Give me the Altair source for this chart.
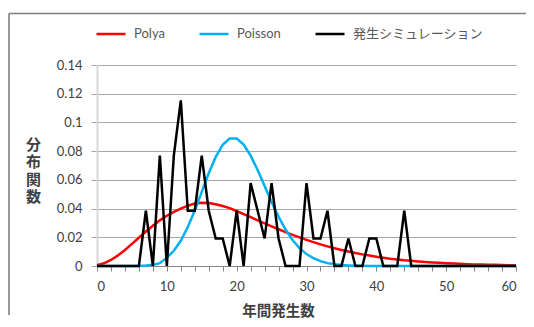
import altair as alt
import pandas as pd

x_vals = list(range(61))

polya = [0.0006, 0.0019, 0.0042, 0.0074, 0.0112, 0.0154, 0.0197, 0.0240, 0.0280, 0.0318,
         0.0350, 0.0377, 0.0400, 0.0420, 0.0435, 0.0440, 0.0438, 0.0430, 0.0418, 0.0403,
         0.0383, 0.0362, 0.0340, 0.0318, 0.0297, 0.0276, 0.0256, 0.0236, 0.0217, 0.0199,
         0.0182, 0.0166, 0.0151, 0.0137, 0.0124, 0.0112, 0.0101, 0.0091, 0.0081, 0.0073,
         0.0065, 0.0058, 0.0051, 0.0046, 0.0040, 0.0036, 0.0032, 0.0028, 0.0025, 0.0022,
         0.0019, 0.0017, 0.0015, 0.0013, 0.0011, 0.0010, 0.0009, 0.0008, 0.0007, 0.0006,
         0.0005]

poisson = [0, 0, 0, 0, 0, 0, 0, 0.0003, 0.0008, 0.0020,
           0.0058, 0.0106, 0.0176, 0.0271, 0.0387, 0.0516, 0.0646, 0.0760, 0.0844, 0.0888,
           0.0888, 0.0846, 0.0769, 0.0669, 0.0557, 0.0446, 0.0343, 0.0254, 0.0181, 0.0125,
           0.0083, 0.0054, 0.0034, 0.0020, 0.0012, 0.0007, 0.0004, 0.0002, 0.0001, 0,
           0, 0, 0, 0, 0, 0, 0, 0, 0, 0,
           0, 0, 0, 0, 0, 0, 0, 0, 0, 0,
           0]

simulation = [0, 0, 0, 0, 0, 0, 0, 0.0385, 0, 0.0769,
              0, 0.0769, 0.1154, 0.0385, 0.0385, 0.0769, 0.0385, 0.0192, 0.0192, 0,
              0.0385, 0, 0.0577, 0.0385, 0.0192, 0.0577, 0.0192, 0, 0, 0,
              0.0577, 0.0192, 0.0192, 0.0385, 0, 0, 0.0192, 0, 0, 0.0192,
              0.0192, 0, 0, 0, 0.0385, 0, 0, 0, 0, 0,
              0, 0, 0, 0, 0, 0, 0, 0, 0, 0,
              0]

series_names = ["Polya", "Poisson", "発生シミュレーション"]
series_colors = ["#FF0000", "#00B0F0", "#000000"]
y_ticks = [0, 0.02, 0.04, 0.06, 0.08, 0.1, 0.12, 0.14]
x_ticks = list(range(0, 61, 2))

rows = []
for name, vals in zip(series_names, [polya, poisson, simulation]):
    for xv, v in zip(x_vals, vals):
        rows.append({"x": xv, "value": v, "series": name})
df = pd.DataFrame(rows)

FONT = "Lato, 'Noto Sans CJK JP', sans-serif"
CJK = "'Noto Sans CJK JP', sans-serif"

color = alt.Color(
    "series:N",
    scale=alt.Scale(domain=series_names, range=series_colors),
    legend=alt.Legend(
        title=None, orient="none", legendX=-2, legendY=-47, direction="horizontal",
        symbolType="stroke", symbolSize=841, symbolStrokeWidth=2.5,
        labelFontSize=13, labelFont=FONT, labelColor="#595959", labelOffset=7,
        columnPadding=29, padding=0,
    ),
)

xenc = alt.X(
    "x:Q",
    scale=alt.Scale(domain=[0, 60], nice=False),
    axis=alt.Axis(
        values=x_ticks,
        labelExpr="datum.value % 10 == 0 ? datum.label : ''",
        labelOverlap=False,
        grid=False,
        title="年間発生数",
        titleFont=CJK, titleFontSize=14.5, titleFontWeight="bold", titleColor="#404040",
        titleX=181, titleY=45, titleAlign="center", titleBaseline="middle",
        domainColor="#868686", tickColor="#868686", tickSize=5,
        labelFont=FONT, labelFontSize=13, labelColor="#404040", labelPadding=9,
    ),
)

yenc = alt.Y(
    "value:Q",
    scale=alt.Scale(domain=[0, 0.14], nice=False),
    axis=alt.Axis(
        values=y_ticks, format="~g",
        title=["分", "布", "関", "数"], titleAngle=0,
        titleFont=CJK, titleFontSize=15, titleFontWeight="bold", titleColor="#404040",
        titleX=-64, titleY=79, titleAlign="center", titleBaseline="middle",
        titleLineHeight=17.5,
        domainColor="#D9D9D9", domainWidth=2,
        gridColor="#A6A6A6", tickColor="#A6A6A6", tickSize=6,
        labelFont=FONT, labelFontSize=13, labelColor="#404040", labelPadding=9,
    ),
)

frame_src = pd.DataFrame({"a": [0]})
frame_top = alt.Chart(frame_src).mark_rule(color="#7F7F7F", strokeWidth=1.6).encode(
    x=alt.value(-88), x2=alt.value(430), y=alt.value(-51.5)
)
frame_left = alt.Chart(frame_src).mark_rule(color="#7F7F7F", strokeWidth=1.6).encode(
    x=alt.value(-88), y=alt.value(-51.5), y2=alt.value(250)
)

layers = [frame_top, frame_left]
for name in series_names:
    layers.append(
        alt.Chart(df)
        .transform_filter(alt.datum.series == name)
        .mark_line(strokeWidth=2.5)
        .encode(x=xenc, y=yenc, color=color)
    )

chart = alt.layer(*layers).properties(
    width=419, height=201,
    autosize=alt.AutoSizeParams(type="none"),
    padding={"left": 89, "top": 57, "right": 10, "bottom": 53},
    background="white",
).configure_view(strokeWidth=0)

chart.save("out.html", embed_options={"renderer": "svg", "actions": False})
